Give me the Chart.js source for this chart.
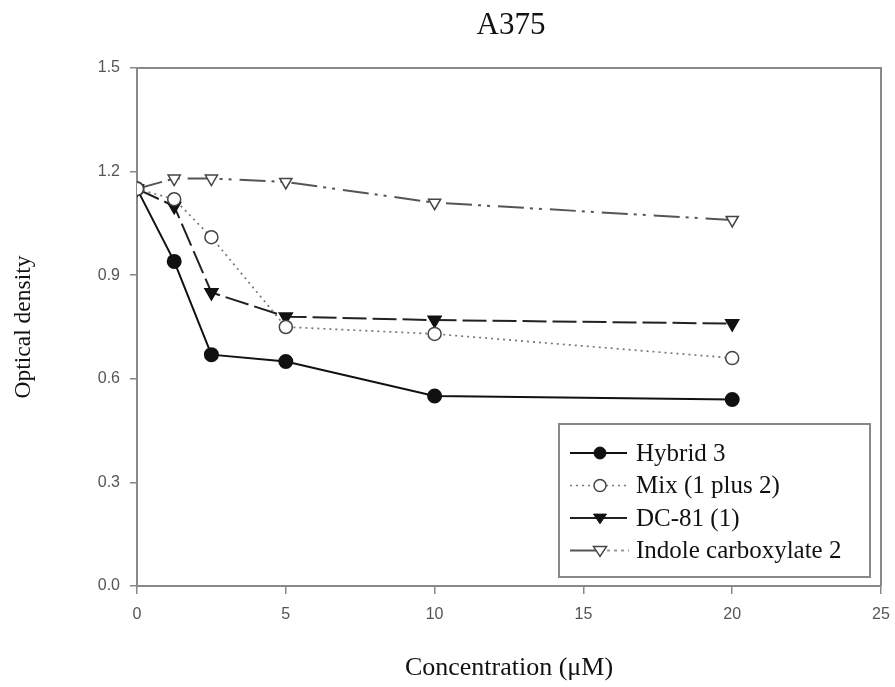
<!DOCTYPE html>
<html>
<head>
<meta charset="utf-8">
<style>
  html, body { margin: 0; padding: 0; background: #fff; }
  #wrap { width: 895px; height: 687px; }
</style>
</head>
<body>
<div id="wrap">
  <canvas id="myChart" width="895" height="687"></canvas>
</div>

<script src="https://cdn.jsdelivr.net/npm/chart.js"></script>

<script>
  // concentrations (µM)
  const conc = [0, 1.25, 2.5, 5, 10, 20];

  // optical density per compound
  const hybrid3 = [1.15, 0.94, 0.67, 0.65, 0.55, 0.54];
  const mix12 = [1.15, 1.12, 1.01, 0.75, 0.73, 0.66];
  const dc81 = [1.15, 1.10, 0.85, 0.78, 0.77, 0.76];
  const indole2 = [1.15, 1.18, 1.18, 1.17, 1.11, 1.06];

  const seriesNames = ['Hybrid 3', 'Mix (1 plus 2)', 'DC-81 (1)', 'Indole carboxylate 2'];

  const xTicks = [0, 5, 10, 15, 20, 25];
  const yTicks = [0.0, 0.3, 0.6, 0.9, 1.2, 1.5];

  function pts(vals) {
    return conc.map((c, i) => ({ x: c, y: vals[i] }));
  }

  const serif = "'Liberation Serif', 'Times New Roman', serif";
  const sans = "'Liberation Sans', Arial, sans-serif";
</script>

<script>
  let datasets = [
    {
      label: seriesNames[0], data: pts(hybrid3), order: 1,
      borderColor: '#111', borderWidth: 2, borderDash: [],
      pointStyle: 'circle', pointRadius: 6.5, pointBackgroundColor: '#111', pointBorderColor: '#111',
      pointRotation: 0
    },
    {
      label: seriesNames[1], data: pts(mix12), order: 0,
      borderColor: '#777', borderWidth: 1.7, borderDash: [2, 4],
      pointStyle: 'circle', pointRadius: 6.5, pointBackgroundColor: '#fff', pointBorderColor: '#444',
      pointBorderWidth: 1.5, pointRotation: 0
    },
    {
      label: seriesNames[2], data: pts(dc81), order: 1,
      borderColor: '#222', borderWidth: 2, borderDash: [24, 6],
      pointStyle: 'triangle', pointRadius: 7, pointBackgroundColor: '#111', pointBorderColor: '#111',
      pointRotation: 180
    },
    {
      label: seriesNames[3], data: pts(indole2), order: 1,
      borderColor: '#555', borderWidth: 2, borderDash: [26, 6, 3, 6, 3, 8],
      pointStyle: 'triangle', pointRadius: 7, pointBackgroundColor: '#fff', pointBorderColor: '#444',
      pointBorderWidth: 1.5, pointRotation: 180
    }
  ];
  datasets.forEach(d => { d.fill = false; d.tension = 0; d.pointHoverRadius = d.pointRadius; });

  function marker(ctx, ds, x, y, r) {
    ctx.save();
    ctx.setLineDash([]);
    ctx.fillStyle = ds.pointBackgroundColor;
    ctx.strokeStyle = ds.pointBorderColor;
    ctx.lineWidth = ds.pointBorderWidth || 1;
    ctx.beginPath();
    if (ds.pointStyle === 'circle') {
      ctx.arc(x, y, r, 0, Math.PI * 2);
    } else {
      // downward triangle
      ctx.moveTo(x - r, y - r * 0.6);
      ctx.lineTo(x + r, y - r * 0.6);
      ctx.lineTo(x, y + r * 0.9);
      ctx.closePath();
    }
    ctx.fill();
    ctx.stroke();
    ctx.restore();
  }

  const framePlugin = {
    id: 'frame',
    afterDraw(chart) {
      const ctx = chart.ctx;
      const a = chart.chartArea;
      ctx.save();
      // top / right frame
      ctx.strokeStyle = '#888';
      ctx.lineWidth = 2;
      ctx.beginPath();
      ctx.moveTo(a.left, a.top);
      ctx.lineTo(a.right, a.top);
      ctx.lineTo(a.right, a.bottom);
      ctx.stroke();

      // title
      ctx.fillStyle = '#111';
      ctx.font = '31px ' + serif;
      ctx.textAlign = 'center';
      ctx.textBaseline = 'middle';
      ctx.fillText('A375', (a.left + a.right) / 2 + 2, 26);

      // legend box
      const bx = a.right - 322, by = a.bottom - 162, bw = 311, bh = 153;
      ctx.fillStyle = '#fff';
      ctx.fillRect(bx, by, bw, bh);
      ctx.strokeStyle = '#888';
      ctx.lineWidth = 2;
      ctx.strokeRect(bx, by, bw, bh);

      ctx.font = '25px ' + serif;
      ctx.textAlign = 'left';
      chart.data.datasets.forEach((ds, i) => {
        const y = by + 29 + i * 32.5;
        ctx.save();
        ctx.strokeStyle = ds.borderColor;
        ctx.lineWidth = ds.borderWidth;
        ctx.setLineDash(i === 1 ? [2, 4] : []);
        ctx.beginPath();
        ctx.moveTo(bx + 11, y);
        ctx.lineTo(bx + (i === 3 ? 41 : 68), y);
        ctx.stroke();
        if (i === 3) {
          ctx.setLineDash([3, 4]);
          ctx.strokeStyle = '#999';
          ctx.beginPath();
          ctx.moveTo(bx + 41, y);
          ctx.lineTo(bx + 70, y);
          ctx.stroke();
        }
        ctx.restore();
        marker(ctx, ds, bx + 41, y, ds.pointStyle === 'circle' ? 6 : 6.5);
        ctx.fillStyle = '#111';
        ctx.fillText(ds.label, bx + 77, y + 1);
      });
      ctx.restore();
    }
  };

  const ctx = document.getElementById('myChart');

  new Chart(ctx, {
    type: 'line',
    data: { datasets: datasets },
    plugins: [framePlugin],
    options: {
      responsive: false,
      animation: false,
      layout: { padding: { left: 0, right: 14, top: 68, bottom: 0 } },
      plugins: {
        legend: { display: false },
        tooltip: { enabled: false },
        title: { display: false }
      },
      scales: {
        x: {
          type: 'linear',
          min: 0, max: 25,
          afterBuildTicks: (s) => { s.ticks = xTicks.map(v => ({ value: v })); },
          afterFit: (s) => { s.height = 101; s.paddingRight = 0; s.paddingLeft = 0; },
          border: { color: '#888', width: 2 },
          grid: { drawOnChartArea: false, drawTicks: true, tickLength: 8, color: '#888', lineWidth: 1.5 },
          ticks: { color: '#555', font: { family: sans, size: 16 }, padding: 11 },
          title: {
            display: true, text: 'Concentration (\u03bcM)', color: '#111',
            font: { family: serif, size: 26 }, padding: { top: 0, bottom: 3 }
          }
        },
        y: {
          min: 0, max: 1.5,
          afterBuildTicks: (s) => { s.ticks = yTicks.map(v => ({ value: v })); },
          afterFit: (s) => { s.width = 137; },
          border: { color: '#888', width: 2 },
          grid: { drawOnChartArea: false, drawTicks: true, tickLength: 7, color: '#888', lineWidth: 1.5 },
          ticks: { color: '#555', font: { family: sans, size: 16 }, padding: 10,
                   callback: (v) => Number(v).toFixed(1) },
          title: {
            display: true, text: 'Optical density', color: '#111',
            font: { family: serif, size: 23.5 }, padding: { top: 10, bottom: 0 }
          }
        }
      }
    }
  });
</script>
</body>
</html>
